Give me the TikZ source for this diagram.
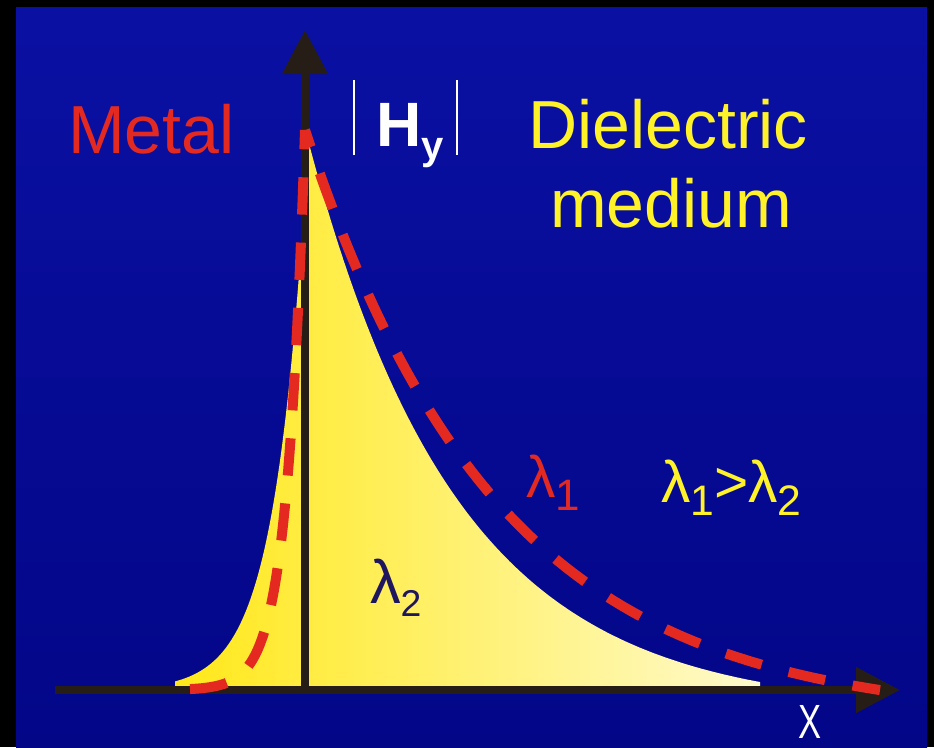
\documentclass[tikz,border=0pt]{standalone}
\usepackage{fontspec}
\setmainfont{Liberation Sans}
\usetikzlibrary{arrows.meta}
\definecolor{bgtop}{RGB}{10,16,162}
\definecolor{bgbot}{RGB}{3,6,135}
\definecolor{axisc}{RGB}{38,30,22}
\definecolor{redc}{RGB}{228,42,32}
\definecolor{yelc}{RGB}{255,242,40}
\definecolor{navyc}{RGB}{30,22,95}
\definecolor{fillA}{RGB}{255,232,25}
\definecolor{fillB}{RGB}{255,250,205}
\newcommand{\fsz}[1]{\fontsize{#1}{#1}\selectfont}
\tikzset{
  axisline/.style={draw=axisc,line width=6pt,-{Triangle[length=33pt,width=33pt]}},
  reddash/.style={draw=redc,line width=7.5pt,dash pattern=on 28pt off 21pt},
  bar/.style={draw=white,line width=2.2pt},
  lbl/.style={inner sep=0pt,outer sep=0pt}
}
\begin{document}
\begin{tikzpicture}[x=0.75pt,y=-0.75pt]
\useasboundingbox (0,0) rectangle (934,747);
\fill[black] (0,0) rectangle (934,747);
\shade[top color=bgtop,bottom color=bgbot] (16,7) rectangle (927,747);
% yellow field |H_y| for lambda_2
\shade[left color=fillA,right color=fillB]
  (175,690) -- plot[domain=175:308,samples=90] (\x,{690-550*exp((\x-308)/32)})
  -- plot[domain=308:760,samples=140] (\x,{710-570*exp(-(\x-308)/150)})
  -- (760,690) -- cycle;
% axes
\coordinate (xs) at (55,690);
\coordinate (xe) at (900,690);
\coordinate (ys) at (305,694);
\coordinate (ye) at (305,30);
\draw[axisline] (xs) -- (xe);
\draw[axisline] (ys) -- (ye);
% red dashed field for lambda_1
\draw[reddash] plot[domain=190:305,samples=90] (\x,{690-560*exp((\x-305)/18)})
  -- plot[domain=305:880,samples=160] (\x,{720-590*exp(-(\x-305)/193)});
% labels
\node[lbl,anchor=base west,text=redc,font=\fsz{51pt}] (metal) at (68,153) {Metal};
\coordinate (b1a) at (354,80); \coordinate (b1b) at (354,155);
\coordinate (b2a) at (457,80); \coordinate (b2b) at (457,155);
\draw[bar] (b1a) -- (b1b);
\draw[bar] (b2a) -- (b2b);
\node[lbl,anchor=base west,text=white,font=\fsz{47pt}\bfseries] (hy) at (376,146) {H\raisebox{-10pt}{\fsz{30pt}y}};
\node[lbl,anchor=base,text=yelc,font=\fsz{51pt}] (diel) at (668,148) {Dielectric};
\node[lbl,anchor=base,text=yelc,font=\fsz{51pt}] (med) at (671,227) {medium};
\node[lbl,anchor=base west,text=redc,font=\fsz{44pt}] (l1) at (526,497) {λ\raisebox{-10pt}{\fsz{33pt}1}};
\node[lbl,anchor=base west,text=yelc,font=\fsz{44pt}] (cmp) at (661,502) {λ\raisebox{-10pt}{\fsz{32pt}1}>λ\raisebox{-10pt}{\fsz{32pt}2}};
\node[lbl,anchor=base west,text=navyc,font=\fsz{46pt}] (l2) at (370,603) {λ\raisebox{-10pt}{\fsz{28pt}2}};
\node[lbl,anchor=base,text=white,font=\fsz{36pt}] (xl) at (810,738) {\scalebox{0.72}[1]{X}};
\end{tikzpicture}
\end{document}
